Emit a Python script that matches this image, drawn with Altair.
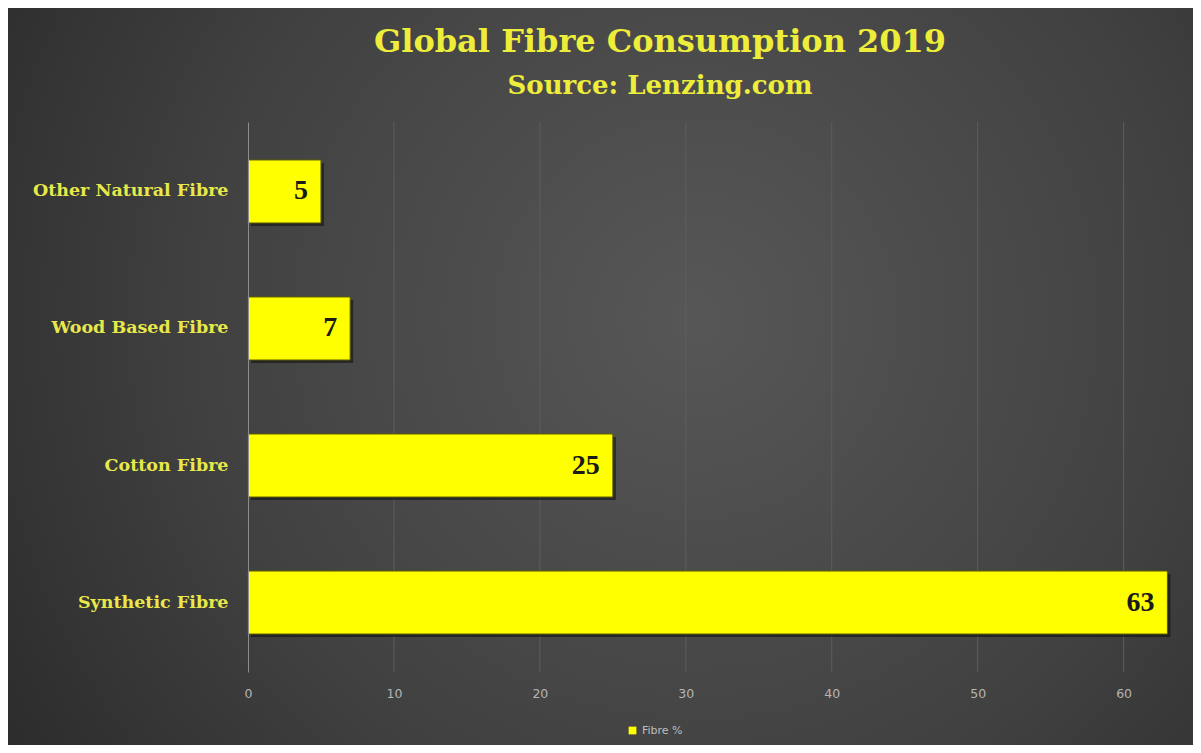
import altair as alt
import pandas as pd

categories = ["Other Natural Fibre", "Wood Based Fibre", "Cotton Fibre", "Synthetic Fibre"]
values = [5, 7, 25, 63]
series = ["Fibre %"] * 4
x_ticks = [0, 10, 20, 30, 40, 50, 60]

df = pd.DataFrame({"category": categories, "value": values, "series": series})
grid_df = pd.DataFrame({"value": x_ticks[1:]})

W, H = 934, 550
PL, PT, PR, PB = 240, 114, 11, 73

bg = alt.Chart(pd.DataFrame({"a": [0]})).mark_rect(
    fill={
        "gradient": "radial",
        "x1": 0.58, "y1": 0.45, "r1": 0,
        "x2": 0.58, "y2": 0.45, "r2": 0.75,
        "stops": [
            {"offset": 0, "color": "#575757"},
            {"offset": 0.55, "color": "#414141"},
            {"offset": 1, "color": "#272727"},
        ],
    }
).encode(
    x=alt.value(-PL), x2=alt.value(W + PR), y=alt.value(-PT), y2=alt.value(H + PB)
)

xscale = alt.Scale(domain=[0, 64], nice=False)
xaxis = alt.Axis(
    title=None, values=x_ticks, grid=False, domain=False,
    ticks=False, labelColor="#b5b5b5", labelFont="DejaVu Sans",
    labelFontSize=12.5, labelPadding=15, labelFlush=False, zindex=1,
)

grid = alt.Chart(grid_df).mark_rule(color="#5e5e5e", strokeWidth=1).encode(
    x=alt.X("value:Q", scale=xscale, axis=xaxis),
    y=alt.value(0),
    y2=alt.value(H),
)

base = alt.Chart(df).encode(
    y=alt.Y(
        "category:N",
        sort=categories,
        scale=alt.Scale(paddingInner=0.54, paddingOuter=0.277),
        axis=alt.Axis(
            title=None, ticks=False, domain=True, domainColor="#8c8c8c", grid=False,
            labelFont="DejaVu Serif", labelFontWeight="bold", labelFontSize=17.5,
            labelColor="#e8e84a", labelPadding=20, labelLimit=300, zindex=1,
        ),
    ),
    x=alt.X("value:Q", scale=xscale, axis=xaxis),
)

shadow = base.mark_bar(color="#0d0d0d", opacity=0.55, xOffset=3, x2Offset=3, yOffset=3, y2Offset=3)

bars = base.mark_bar(stroke="#5c5c00", strokeWidth=1).encode(
    fill=alt.Fill(
        "series:N",
        scale=alt.Scale(range=["#ffff00"]),
        legend=alt.Legend(
            title=None, orient="none", legendX=379, legendY=603,
            symbolType="square", symbolSize=60, symbolStrokeWidth=0,
            labelColor="#bdbdbd", labelFont="DejaVu Sans", labelFontSize=11,
        ),
    )
)

text = base.mark_text(
    align="right", baseline="middle", dx=-13, font="Liberation Serif",
    fontWeight="bold", fontSize=28, color="#1a1a1a",
).encode(text="value:Q")

chart = alt.layer(bg, grid, shadow, bars, text).properties(
    width=W,
    height=H,
    title=alt.TitleParams(
        text="Global Fibre Consumption 2019",
        subtitle="Source: Lenzing.com",
        font="DejaVu Serif", fontSize=32, fontWeight="bold", color="#eded3a",
        subtitleFont="DejaVu Serif", subtitleFontSize=26, subtitleFontWeight="bold",
        subtitleColor="#eded3a", subtitlePadding=14,
        anchor="middle", frame="group", dx=-55, offset=-92,
    ),
    padding={"left": PL, "top": PT, "right": PR, "bottom": PB},
    autosize=alt.AutoSizeParams(type="none"),
    background="#2e2e2e",
).configure_view(stroke=None)

chart.save("out.html", embed_options={"renderer": "svg", "actions": False})
